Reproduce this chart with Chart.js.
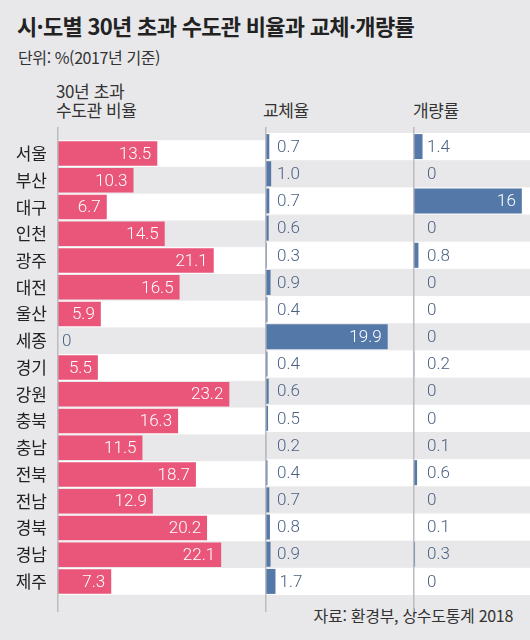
<!DOCTYPE html>
<html lang="ko">
<head>
<meta charset="utf-8">
<script src="https://cdn.jsdelivr.net/npm/chart.js@4"></script>
<style>
  html, body { margin: 0; padding: 0; }
  body {
    width: 530px; height: 640px; position: relative; overflow: hidden;
    background: #e8e8ea; color: #222;
    font-family: "Noto Sans CJK KR", "Noto Sans", sans-serif;
  }
  .t { position: absolute; white-space: nowrap; }
  #title { left: 17px; top: 9px; font-size: 22px; font-weight: 700; letter-spacing: -0.7px; }
  #unit { left: 18px; top: 45px; font-size: 16px; letter-spacing: -0.4px; color: #333; }
  .head { font-size: 17px; line-height: 19px; color: #333; letter-spacing: -0.4px; }
  #source { right: 17px; top: 603px; font-size: 16px; letter-spacing: -0.3px; color: #333; }
  canvas { position: absolute; top: 120px; }
</style>
</head>
<body>
<div class="t" id="title">시·도별 30년 초과 수도관 비율과 교체·개량률</div>
<div class="t" id="unit">단위: %(2017년 기준)</div>
<div class="t head" style="left:56px;top:81px">30년 초과<br>수도관 비율</div>
<div class="t head" style="left:263px;top:100px">교체율</div>
<div class="t head" style="left:413px;top:100px">개량률</div>
<div class="t" id="source">자료: 환경부, 상수도통계 2018</div>

<canvas id="c1" width="265" height="495" style="left:0"></canvas>
<canvas id="c2" width="148" height="495" style="left:265px"></canvas>
<canvas id="c3" width="117" height="495" style="left:413px"></canvas>

<script>
// ---------- Data ----------
const regions = ["서울", "부산", "대구", "인천", "광주", "대전", "울산", "세종", "경기",
  "강원", "충북", "충남", "전북", "전남", "경북", "경남", "제주"];
const oldPipeRatio = [13.5, 10.3, 6.7, 14.5, 21.1, 16.5, 5.9, 0, 5.5, 23.2, 16.3, 11.5, 18.7, 12.9, 20.2, 22.1, 7.3];
const replaceRate = [0.7, 1.0, 0.7, 0.6, 0.3, 0.9, 0.4, 19.9, 0.4, 0.6, 0.5, 0.2, 0.4, 0.7, 0.8, 0.9, 1.7];
const improveRate = [1.4, 0, 16, 0, 0.8, 0, 0, 0, 0.2, 0, 0, 0.1, 0.6, 0, 0.1, 0.3, 0];

const PINK = "#ea557a";
const BLUE = "#5479a9";
const VALUE_TEXT = "#4b6282";
const VALUE_FONT = "300 17px Roboto, 'Noto Sans', sans-serif";

// fixed decimals like the source (1.0, 0.7 ...) but plain ints stay ints
function fmt(v, dec) {
  if (v === 0) return "0";
  return dec ? v.toFixed(1) : String(v);
}

// white/grey row stripes + the vertical axis line
const stripes = {
  id: "stripes",
  beforeDatasetsDraw(chart) {
    const { ctx, chartArea, scales } = chart;
    const y = scales.y;
    const band = (chartArea.bottom - chartArea.top) / regions.length;
    ctx.save();
    ctx.fillStyle = "#ffffff";
    regions.forEach((_, i) => {
      if (i % 2) return;
      const cy = y.getPixelForValue(i);
      ctx.fillRect(chartArea.left, cy - band / 2, chart.width - chartArea.left, band);
    });
    ctx.restore();
  },
  afterDatasetsDraw(chart) {
    const { ctx, chartArea } = chart;
    ctx.save();
    ctx.strokeStyle = "#bcbcc0";
    ctx.lineWidth = 1.5;
    ctx.beginPath();
    ctx.moveTo(chartArea.left + 0.75, 7);
    ctx.lineTo(chartArea.left + 0.75, chart.height - 3);
    ctx.stroke();
    ctx.restore();
  },
};

// value labels: inside the bar when it fits, else after it
const valueLabels = {
  id: "valueLabels",
  afterDraw(chart, args, opts) {
    const { ctx, chartArea } = chart;
    const meta = chart.getDatasetMeta(0);
    const data = chart.data.datasets[0].data;
    ctx.save();
    ctx.font = VALUE_FONT;
    ctx.textBaseline = "middle";
    meta.data.forEach((bar, i) => {
      const v = data[i];
      const txt = fmt(v, opts.decimals);
      const w = ctx.measureText(txt).width;
      const len = bar.x - chartArea.left;
      if (len > w + 12) {
        ctx.fillStyle = "#ffffff";
        ctx.textAlign = "right";
        ctx.fillText(txt, bar.x - 6, bar.y + 1);
      } else {
        ctx.fillStyle = VALUE_TEXT;
        ctx.textAlign = "left";
        ctx.fillText(txt, Math.max(chartArea.left + opts.minX, bar.x + 4), bar.y + 1);
      }
    });
    ctx.restore();
  },
};

function makeChart(id, values, color, max, showLabels, decimals, minX) {
  return new Chart(document.getElementById(id), {
    type: "bar",
    data: {
      labels: regions,
      datasets: [{
        data: values,
        backgroundColor: color,
        borderWidth: 0,
        barPercentage: 0.92,
        categoryPercentage: 1,
      }],
    },
    options: {
      indexAxis: "y",
      responsive: false,
      animation: false,
      devicePixelRatio: 1,
      layout: { padding: { top: 13, bottom: 20, left: 0, right: 0 } },
      plugins: {
        legend: { display: false },
        tooltip: { enabled: false },
        valueLabels: { decimals, minX },
      },
      scales: {
        x: { display: false, min: 0, max },
        y: {
          display: showLabels,
          grid: { display: false, drawTicks: false },
          border: { display: false },
          ticks: {
            padding: 10,
            color: "#222",
            font: { family: "'Noto Sans CJK KR', sans-serif", size: 17 },
          },
          afterFit(scale) { if (showLabels) scale.width = 57; },
        },
      },
    },
    plugins: [stripes, valueLabels],
  });
}

makeChart("c1", oldPipeRatio, PINK, 28, true, true, 5);
makeChart("c2", replaceRate, BLUE, 24, false, true, 12);
makeChart("c3", improveRate, BLUE, 17.2, false, false, 14);
</script>
</body>
</html>
